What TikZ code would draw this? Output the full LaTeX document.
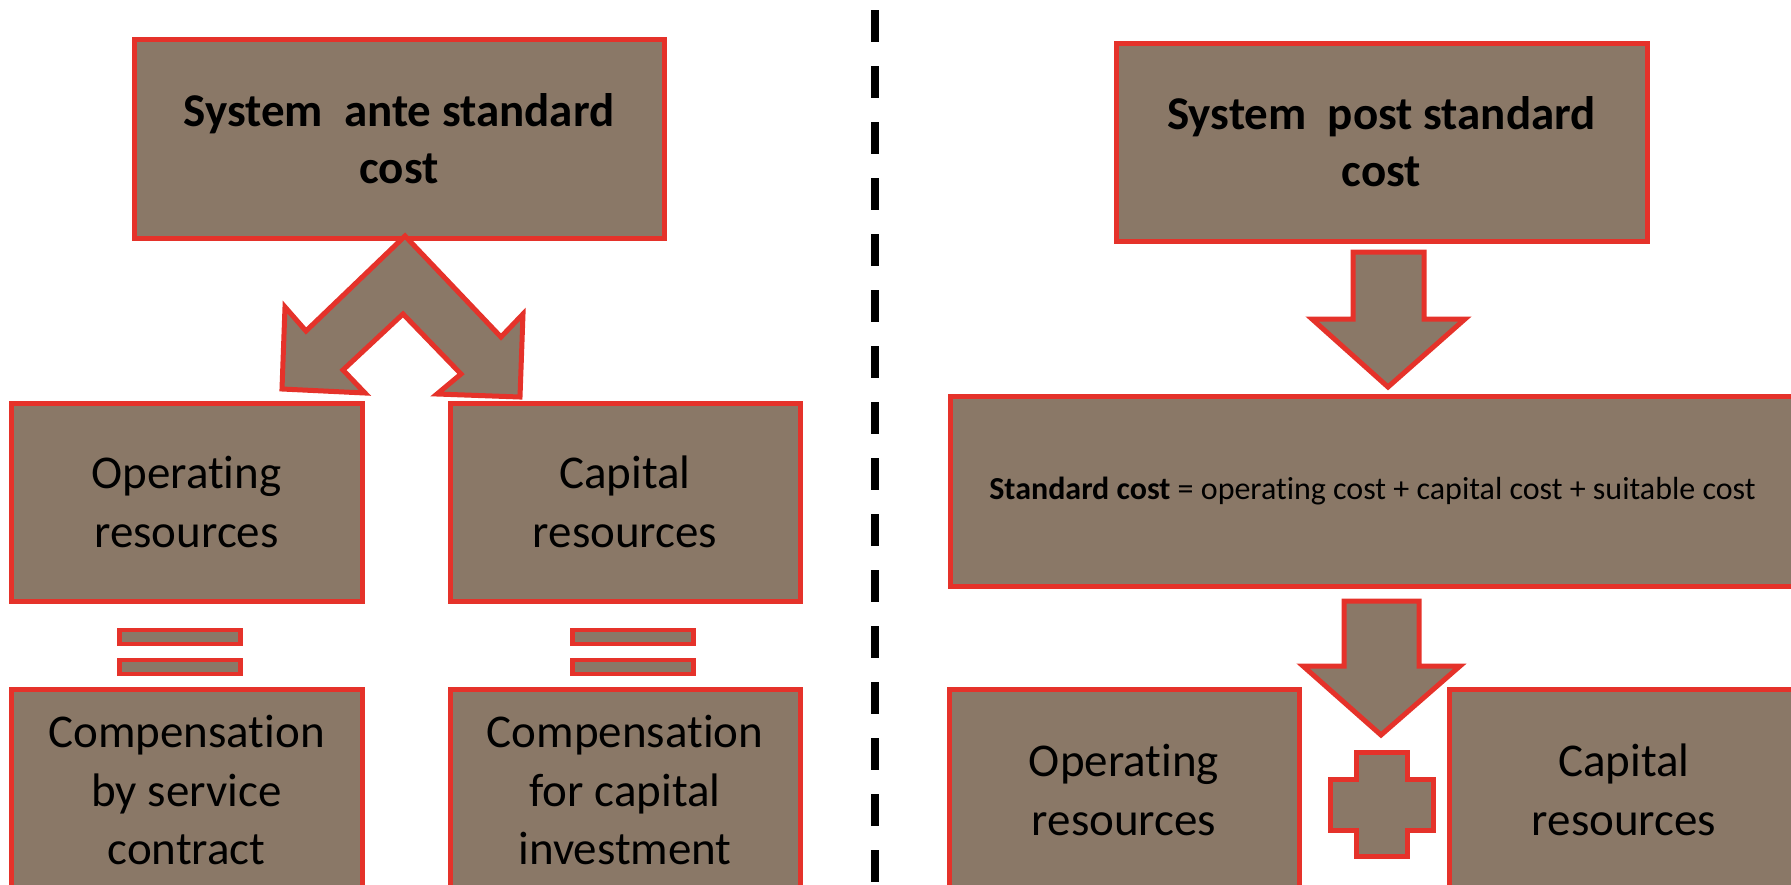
\documentclass[tikz,border=0pt]{standalone}
\usepackage{fontspec}
\setmainfont{Carlito}[Ligatures={NoCommon}]
\definecolor{taupe}{RGB}{138,120,103}
\definecolor{bred}{RGB}{229,50,42}
\begin{document}
\begin{tikzpicture}[x=1pt,y=-1pt,
  box/.style={draw=bred, fill=taupe, line width=5pt, rectangle, inner sep=0pt,
    align=center, text=black},
  bigtext/.style={font=\fontsize{47}{58.5}\selectfont},
  titletext/.style={font=\fontsize{47}{57}\selectfont\bfseries},
  bar/.style={draw=bred, fill=taupe, line width=4.5pt, rectangle, inner sep=0pt,
    minimum width=121pt, minimum height=14pt},
  blockarrow/.style={draw=bred, fill=taupe, line width=5pt, line join=miter},
  divider/.style={line width=8pt, dash pattern=on 32pt off 24pt, black}]
\useasboundingbox (0,0) rectangle (1791,884);
\clip (0,0) rectangle (1791,884);

% ---------- left half: ante standard cost ----------
\node[box, titletext, minimum width=530pt, minimum height=199pt] (ante) at (399,138.5)
  {System\ \ ante standard\\cost};
\node[box, bigtext, minimum width=351pt, minimum height=198pt] (opL) at (186.5,502)
  {Operating\\resources};
\node[box, bigtext, minimum width=350pt, minimum height=198pt] (capL) at (625,502)
  {Capital\\resources};
\node[box, bigtext, minimum width=351pt, minimum height=202pt] (compL) at (186.5,790)
  {Compensation\\by service\\contract};
\node[box, bigtext, minimum width=350pt, minimum height=202pt] (compR) at (625,790)
  {Compensation\\for capital\\investment};

% equals signs between the two rows
\node[bar] (eqLa) at (180,637) {};
\node[bar] (eqLb) at (180,667) {};
\node[bar] (eqRa) at (633,637) {};
\node[bar] (eqRb) at (633,667) {};

% split arrow from the ante box down to both resource boxes
\draw[blockarrow] (405,236) -- (306,331) -- (285,307) -- (282,389) -- (365,393)
  -- (343,370) -- (403,314) -- (461,374) -- (437,394) -- (520,397)
  -- (523,314) -- (501,337) -- cycle;

% ---------- dashed divider ----------
\coordinate (divtop) at (875,10);
\coordinate (divbot) at (875,884);
\draw[divider] (divtop) -- (divbot);

% ---------- right half: post standard cost ----------
\node[box, titletext, minimum width=531pt, minimum height=198pt] (post) at (1381.5,142)
  {System\ \ post standard\\cost};
\node[box, font=\fontsize{32}{38}\selectfont,
  minimum width=845pt, minimum height=190pt] (std) at (1372.5,491)
  {\textbf{Standard cost} = operating cost + capital cost + suitable cost};
\node[box, bigtext, minimum width=350pt, minimum height=202pt] (opR) at (1124,790)
  {Operating\\resources};
\node[box, bigtext, minimum width=350pt, minimum height=202pt] (capR) at (1624,790)
  {Capital\\resources};

% down arrows
\draw[blockarrow] (1353,252) -- (1424,252) -- (1424,319) -- (1465,319)
  -- (1388,387) -- (1312,319) -- (1353,319) -- cycle;
\draw[blockarrow] (1344,601) -- (1419,601) -- (1419,666) -- (1460,666)
  -- (1381,735) -- (1303,666) -- (1344,666) -- cycle;

% plus sign
\draw[blockarrow] (1356,752) -- (1407,752) -- (1407,779) -- (1433,779)
  -- (1433,830) -- (1407,830) -- (1407,856) -- (1356,856) -- (1356,830)
  -- (1330,830) -- (1330,779) -- (1356,779) -- cycle;
\end{tikzpicture}
\end{document}
